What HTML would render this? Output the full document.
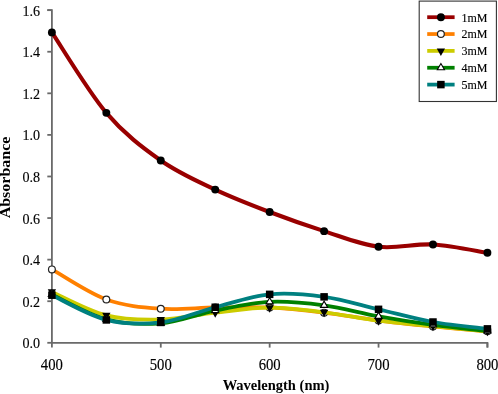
<!DOCTYPE html>
<html><head><meta charset="utf-8"><style>
html,body{margin:0;padding:0;background:#fff;overflow:hidden;}
svg{display:block;will-change:transform;}
.t{font-family:"Liberation Serif",serif;font-size:16px;fill:#000;stroke:#000;stroke-width:0.15px;}
.ty{font-size:15.5px;}
.b{font-family:"Liberation Serif",serif;font-size:14.5px;font-weight:bold;fill:#000;}
.b2{font-family:"Liberation Serif",serif;font-size:16px;font-weight:bold;fill:#000;}
.l{font-family:"Liberation Serif",serif;font-size:12px;stroke:#000;stroke-width:0.12px;fill:#000;}
</style></head><body>
<svg width="498" height="394" viewBox="0 0 498 394">
<path d="M47.3,10.16 H51.90 V342.80 H487.42 V347.6" fill="none" stroke="#6a6a6a" stroke-width="1.8"/>
<line x1="47.3" y1="342.80" x2="51.90" y2="342.80" stroke="#6a6a6a" stroke-width="1.8"/>
<text transform="translate(40.1,348.30) scale(0.910,1)" text-anchor="end" class="t ty">0.0</text>
<line x1="47.3" y1="301.22" x2="51.90" y2="301.22" stroke="#6a6a6a" stroke-width="1.8"/>
<text transform="translate(40.1,306.72) scale(0.910,1)" text-anchor="end" class="t ty">0.2</text>
<line x1="47.3" y1="259.64" x2="51.90" y2="259.64" stroke="#6a6a6a" stroke-width="1.8"/>
<text transform="translate(40.1,265.14) scale(0.910,1)" text-anchor="end" class="t ty">0.4</text>
<line x1="47.3" y1="218.06" x2="51.90" y2="218.06" stroke="#6a6a6a" stroke-width="1.8"/>
<text transform="translate(40.1,223.56) scale(0.910,1)" text-anchor="end" class="t ty">0.6</text>
<line x1="47.3" y1="176.48" x2="51.90" y2="176.48" stroke="#6a6a6a" stroke-width="1.8"/>
<text transform="translate(40.1,181.98) scale(0.910,1)" text-anchor="end" class="t ty">0.8</text>
<line x1="47.3" y1="134.90" x2="51.90" y2="134.90" stroke="#6a6a6a" stroke-width="1.8"/>
<text transform="translate(40.1,140.40) scale(0.910,1)" text-anchor="end" class="t ty">1.0</text>
<line x1="47.3" y1="93.32" x2="51.90" y2="93.32" stroke="#6a6a6a" stroke-width="1.8"/>
<text transform="translate(40.1,98.82) scale(0.910,1)" text-anchor="end" class="t ty">1.2</text>
<line x1="47.3" y1="51.74" x2="51.90" y2="51.74" stroke="#6a6a6a" stroke-width="1.8"/>
<text transform="translate(40.1,57.24) scale(0.910,1)" text-anchor="end" class="t ty">1.4</text>
<line x1="47.3" y1="10.16" x2="51.90" y2="10.16" stroke="#6a6a6a" stroke-width="1.8"/>
<text transform="translate(40.1,15.66) scale(0.910,1)" text-anchor="end" class="t ty">1.6</text>
<line x1="51.90" y1="342.80" x2="51.90" y2="347.6" stroke="#6a6a6a" stroke-width="1.8"/>
<text transform="translate(51.90,369.50) scale(0.920,1)" text-anchor="middle" class="t">400</text>
<line x1="160.78" y1="342.80" x2="160.78" y2="347.6" stroke="#6a6a6a" stroke-width="1.8"/>
<text transform="translate(160.78,369.50) scale(0.920,1)" text-anchor="middle" class="t">500</text>
<line x1="269.66" y1="342.80" x2="269.66" y2="347.6" stroke="#6a6a6a" stroke-width="1.8"/>
<text transform="translate(269.66,369.50) scale(0.920,1)" text-anchor="middle" class="t">600</text>
<line x1="378.54" y1="342.80" x2="378.54" y2="347.6" stroke="#6a6a6a" stroke-width="1.8"/>
<text transform="translate(378.54,369.50) scale(0.920,1)" text-anchor="middle" class="t">700</text>
<line x1="487.42" y1="342.80" x2="487.42" y2="347.6" stroke="#6a6a6a" stroke-width="1.8"/>
<text transform="translate(487.42,369.50) scale(0.920,1)" text-anchor="middle" class="t">800</text>
<text x="276" y="390" text-anchor="middle" class="b">Wavelength (nm)</text>
<text transform="translate(10.1,177.5) rotate(-90) scale(1,0.87)" text-anchor="middle" class="b2">Absorbance</text>
<path d="M51.90,32.41 C60.97,45.81 88.19,91.52 106.34,112.86 C124.49,134.21 142.63,147.69 160.78,160.47 C178.93,173.26 197.07,180.98 215.22,189.58 C233.37,198.17 251.51,205.10 269.66,212.03 C287.81,218.96 305.95,225.37 324.10,231.16 C342.25,236.94 360.39,244.53 378.54,246.75 C396.69,248.97 414.83,243.46 432.98,244.46 C451.13,245.47 478.35,251.39 487.42,252.78" fill="none" stroke="#990000" stroke-width="4.10" stroke-linecap="round" stroke-linejoin="round"/>
<circle cx="51.90" cy="32.41" r="3.95" fill="#000"/>
<circle cx="106.34" cy="112.86" r="3.95" fill="#000"/>
<circle cx="160.78" cy="160.47" r="3.95" fill="#000"/>
<circle cx="215.22" cy="189.58" r="3.95" fill="#000"/>
<circle cx="269.66" cy="212.03" r="3.95" fill="#000"/>
<circle cx="324.10" cy="231.16" r="3.95" fill="#000"/>
<circle cx="378.54" cy="246.75" r="3.95" fill="#000"/>
<circle cx="432.98" cy="244.46" r="3.95" fill="#000"/>
<circle cx="487.42" cy="252.78" r="3.95" fill="#000"/>
<path d="M51.90,269.41 C60.97,274.44 88.19,293.01 106.34,299.56 C124.49,306.11 142.63,307.39 160.78,308.70 C178.93,310.02 197.07,307.66 215.22,307.46 C233.37,307.25 251.51,306.59 269.66,307.46 C287.81,308.32 305.95,310.47 324.10,312.65 C342.25,314.84 360.39,318.27 378.54,320.55 C396.69,322.84 414.83,324.57 432.98,326.38 C451.13,328.18 478.35,330.53 487.42,331.37" fill="none" stroke="#FF8000" stroke-width="3.75" stroke-linecap="round" stroke-linejoin="round"/>
<circle cx="51.90" cy="269.41" r="3.40" fill="#fff" stroke="#222" stroke-width="1.2"/>
<circle cx="106.34" cy="299.56" r="3.40" fill="#fff" stroke="#222" stroke-width="1.2"/>
<circle cx="160.78" cy="308.70" r="3.40" fill="#fff" stroke="#222" stroke-width="1.2"/>
<circle cx="215.22" cy="307.46" r="3.40" fill="#fff" stroke="#222" stroke-width="1.2"/>
<circle cx="269.66" cy="307.46" r="3.40" fill="#fff" stroke="#222" stroke-width="1.2"/>
<circle cx="324.10" cy="312.65" r="3.40" fill="#fff" stroke="#222" stroke-width="1.2"/>
<circle cx="378.54" cy="320.55" r="3.40" fill="#fff" stroke="#222" stroke-width="1.2"/>
<circle cx="432.98" cy="326.38" r="3.40" fill="#fff" stroke="#222" stroke-width="1.2"/>
<circle cx="487.42" cy="331.37" r="3.40" fill="#fff" stroke="#222" stroke-width="1.2"/>
<path d="M51.90,291.86 C60.97,295.78 88.19,310.75 106.34,315.36 C124.49,319.97 142.63,319.97 160.78,319.52 C178.93,319.06 197.07,314.63 215.22,312.65 C233.37,310.68 251.51,307.73 269.66,307.66 C287.81,307.60 305.95,310.06 324.10,312.24 C342.25,314.42 360.39,318.44 378.54,320.76 C396.69,323.08 414.83,324.40 432.98,326.17 C451.13,327.94 478.35,330.50 487.42,331.37" fill="none" stroke="#CCCC00" stroke-width="3.75" stroke-linecap="round" stroke-linejoin="round"/>
<path d="M47.75,289.36 L56.05,289.36 L51.90,296.86 Z" fill="#000"/>
<path d="M102.19,312.86 L110.49,312.86 L106.34,320.36 Z" fill="#000"/>
<path d="M156.63,317.02 L164.93,317.02 L160.78,324.52 Z" fill="#000"/>
<path d="M211.07,310.15 L219.37,310.15 L215.22,317.65 Z" fill="#000"/>
<path d="M265.51,305.16 L273.81,305.16 L269.66,312.66 Z" fill="#000"/>
<path d="M319.95,309.74 L328.25,309.74 L324.10,317.24 Z" fill="#000"/>
<path d="M374.39,318.26 L382.69,318.26 L378.54,325.76 Z" fill="#000"/>
<path d="M428.83,323.67 L437.13,323.67 L432.98,331.17 Z" fill="#000"/>
<path d="M483.27,328.87 L491.57,328.87 L487.42,336.37 Z" fill="#000"/>
<path d="M51.90,294.57 C60.97,298.69 88.19,314.53 106.34,319.31 C124.49,324.09 142.63,324.71 160.78,323.26 C178.93,321.80 197.07,314.14 215.22,310.58 C233.37,307.01 251.51,302.71 269.66,301.84 C287.81,300.98 305.95,302.95 324.10,305.38 C342.25,307.80 360.39,313.14 378.54,316.40 C396.69,319.65 414.83,322.50 432.98,324.92 C451.13,327.35 478.35,329.94 487.42,330.95" fill="none" stroke="#008000" stroke-width="3.75" stroke-linecap="round" stroke-linejoin="round"/>
<path d="M48.30,296.57 L55.50,296.57 L51.90,290.37 Z" fill="#fff" stroke="#000" stroke-width="1.1" stroke-linejoin="miter"/>
<path d="M102.74,321.31 L109.94,321.31 L106.34,315.11 Z" fill="#fff" stroke="#000" stroke-width="1.1" stroke-linejoin="miter"/>
<path d="M157.18,325.26 L164.38,325.26 L160.78,319.06 Z" fill="#fff" stroke="#000" stroke-width="1.1" stroke-linejoin="miter"/>
<path d="M211.62,312.58 L218.82,312.58 L215.22,306.38 Z" fill="#fff" stroke="#000" stroke-width="1.1" stroke-linejoin="miter"/>
<path d="M266.06,303.84 L273.26,303.84 L269.66,297.64 Z" fill="#fff" stroke="#000" stroke-width="1.1" stroke-linejoin="miter"/>
<path d="M320.50,307.38 L327.70,307.38 L324.10,301.18 Z" fill="#fff" stroke="#000" stroke-width="1.1" stroke-linejoin="miter"/>
<path d="M374.94,318.40 L382.14,318.40 L378.54,312.20 Z" fill="#fff" stroke="#000" stroke-width="1.1" stroke-linejoin="miter"/>
<path d="M429.38,326.92 L436.58,326.92 L432.98,320.72 Z" fill="#fff" stroke="#000" stroke-width="1.1" stroke-linejoin="miter"/>
<path d="M483.82,332.95 L491.02,332.95 L487.42,326.75 Z" fill="#fff" stroke="#000" stroke-width="1.1" stroke-linejoin="miter"/>
<path d="M51.90,295.19 C60.97,299.31 88.19,315.39 106.34,319.93 C124.49,324.47 142.63,324.54 160.78,322.43 C178.93,320.31 197.07,311.93 215.22,307.25 C233.37,302.57 251.51,296.09 269.66,294.36 C287.81,292.63 305.95,294.36 324.10,296.85 C342.25,299.35 360.39,305.14 378.54,309.33 C396.69,313.52 414.83,318.75 432.98,322.01 C451.13,325.27 478.35,327.73 487.42,328.87" fill="none" stroke="#008080" stroke-width="3.75" stroke-linecap="round" stroke-linejoin="round"/>
<rect x="48.15" y="291.44" width="7.50" height="7.50" fill="#000"/>
<rect x="102.59" y="316.18" width="7.50" height="7.50" fill="#000"/>
<rect x="157.03" y="318.68" width="7.50" height="7.50" fill="#000"/>
<rect x="211.47" y="303.50" width="7.50" height="7.50" fill="#000"/>
<rect x="265.91" y="290.61" width="7.50" height="7.50" fill="#000"/>
<rect x="320.35" y="293.10" width="7.50" height="7.50" fill="#000"/>
<rect x="374.79" y="305.58" width="7.50" height="7.50" fill="#000"/>
<rect x="429.23" y="318.26" width="7.50" height="7.50" fill="#000"/>
<rect x="483.67" y="325.12" width="7.50" height="7.50" fill="#000"/>
<rect x="419.2" y="1.1" width="77.2" height="100.4" fill="#fff" stroke="#333" stroke-width="1.1"/>
<line x1="427.2" y1="17.20" x2="454.6" y2="17.20" stroke="#990000" stroke-width="3.75"/>
<circle cx="440.90" cy="17.20" r="3.95" fill="#000"/>
<text x="461.5" y="21.50" class="l">1mM</text>
<line x1="427.2" y1="34.05" x2="454.6" y2="34.05" stroke="#FF8000" stroke-width="3.75"/>
<circle cx="440.90" cy="34.05" r="3.40" fill="#fff" stroke="#222" stroke-width="1.2"/>
<text x="461.5" y="38.35" class="l">2mM</text>
<line x1="427.2" y1="50.90" x2="454.6" y2="50.90" stroke="#CCCC00" stroke-width="3.75"/>
<path d="M436.75,48.40 L445.05,48.40 L440.90,55.90 Z" fill="#000"/>
<text x="461.5" y="55.20" class="l">3mM</text>
<line x1="427.2" y1="67.75" x2="454.6" y2="67.75" stroke="#008000" stroke-width="3.75"/>
<path d="M437.30,69.75 L444.50,69.75 L440.90,63.55 Z" fill="#fff" stroke="#000" stroke-width="1.1" stroke-linejoin="miter"/>
<text x="461.5" y="72.05" class="l">4mM</text>
<line x1="427.2" y1="84.60" x2="454.6" y2="84.60" stroke="#008080" stroke-width="3.75"/>
<rect x="437.15" y="80.85" width="7.50" height="7.50" fill="#000"/>
<text x="461.5" y="88.90" class="l">5mM</text>
</svg>
</body></html>
